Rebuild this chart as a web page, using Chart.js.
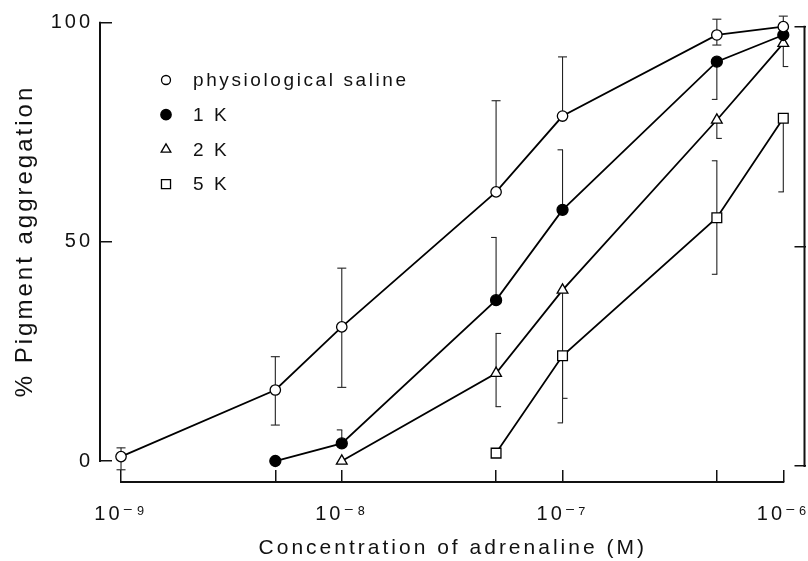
<!DOCTYPE html>
<html>
<head>
<meta charset="utf-8">
<script src="https://cdn.jsdelivr.net/npm/chart.js@4.4.1/dist/chart.umd.min.js"></script>
<style>
html,body{margin:0;padding:0;background:#fff;}
#wrap{width:808px;height:561px;position:relative;}
</style>
</head>
<body>
<div id="wrap"><canvas id="c"></canvas></div>
<script>
// ---- data ----
const seriesLabels = ['physiological saline', '1 K', '2 K', '5 K'];

const salineX = [1e-9, 5e-9, 1e-8, 5e-8, 1e-7, 5e-7, 1e-6];
const salineY = [1.0, 16.2, 30.6, 61.4, 78.7, 97.2, 99.1];
const salineErrUp = [2.0, 7.6, 13.4, 20.8, 13.5, 3.6, 2.4];
const salineErrDown = [3.0, 8.0, 13.8, null, null, 2.3, null];

const k1X = [5e-9, 1e-8, 5e-8, 1e-7, 5e-7, 1e-6];
const k1Y = [0, 4.0, 36.7, 57.3, 91.1, 97.2];
const k1ErrUp = [null, 3.1, 14.3, 13.7, null, null];
const k1ErrDown = [null, null, null, null, 8.6, null];

const k2X = [1e-8, 5e-8, 1e-7, 5e-7, 1e-6];
const k2Y = [0, 20.0, 39.0, 77.8, 95.3];
const k2ErrUp = [null, 9.1, null, null, null];
const k2ErrDown = [null, 7.6, 24.7, 4.2, 5.3];

const k5X = [5e-8, 1e-7, 5e-7, 1e-6];
const k5Y = [1.8, 24.0, 55.5, 78.2];
const k5ErrUp = [null, null, 13.0, null];
const k5ErrDown = [null, 15.3, 12.9, 16.8];

const xTickVals = [1e-9, 5e-9, 1e-8, 5e-8, 1e-7, 5e-7, 1e-6];
const xTickLabels = ['10\u207B\u2079', '', '10\u207B\u2078', '', '10\u207B\u2077', '', '10\u207B\u2076'];
const yTickVals = [0, 50, 100];
const yTickLabels = ['0', '50', '100'];

const xTitle = 'Concentration of adrenaline (M)';
const yTitle = '% Pigment aggregation';

// ---- build ----
function pts(xs, ys) { return xs.map((x, i) => ({x: x, y: ys[i]})); }

const FONT = "'Liberation Sans', 'DejaVu Sans', Arial, sans-serif";

function mkDs(label, xs, ys, up, dn, style, radius, fill, capSide) {
  return {
    label: label,
    data: pts(xs, ys),
    errUp: up, errDown: dn, capSide: capSide,
    borderColor: '#000',
    borderWidth: 1.8,
    pointStyle: style,
    pointRadius: radius,
    pointHoverRadius: radius,
    pointBorderColor: '#000',
    pointBorderWidth: 1.3,
    pointBackgroundColor: fill,
    tension: 0,
    fill: false,
    clip: false
  };
}

const datasets = [
  mkDs(seriesLabels[0], salineX, salineY, salineErrUp, salineErrDown, 'circle', 5.2, '#fff', 'center'),
  mkDs(seriesLabels[1], k1X, k1Y, k1ErrUp, k1ErrDown, 'circle', 5.5, '#000', 'left'),
  mkDs(seriesLabels[2], k2X, k2Y, k2ErrUp, k2ErrDown, 'triangle', 6.2, '#fff', 'right'),
  mkDs(seriesLabels[3], k5X, k5Y, k5ErrUp, k5ErrDown, 'rect', 6.9, '#fff', 'left')
];

const spacingPlugin = {
  id: 'spacing',
  beforeDraw(chart) { chart.ctx.letterSpacing = '3px'; }
};

const errPlugin = {
  id: 'errbars',
  beforeDatasetsDraw(chart) {
    const ctx = chart.ctx, xs = chart.scales.x, ys = chart.scales.y;
    ctx.save();
    ctx.strokeStyle = '#222';
    ctx.lineWidth = 1.1;
    const seg = (x1, y1, x2, y2) => { ctx.beginPath(); ctx.moveTo(x1, y1); ctx.lineTo(x2, y2); ctx.stroke(); };
    const cap = (px, py, side) => {
      if (side === 'left') seg(px - 5, py, px + 0.5, py);
      else if (side === 'right') seg(px - 0.5, py, px + 5, py);
      else seg(px - 4.5, py, px + 4.5, py);
    };
    chart.data.datasets.forEach(ds => {
      ds.data.forEach((p, j) => {
        const px = xs.getPixelForValue(p.x), py = ys.getPixelForValue(p.y);
        const up = ds.errUp[j], dn = ds.errDown[j];
        if (up != null) { const t = ys.getPixelForValue(p.y + up); seg(px, py, px, t); cap(px, t, ds.capSide); }
        if (dn != null) { const b = ys.getPixelForValue(p.y - dn); seg(px, py, px, b); cap(px, b, ds.capSide); }
      });
    });
    ctx.restore();
  }
};

const axisPlugin = {
  id: 'axisLines',
  beforeDatasetsDraw(chart) {
    const ctx = chart.ctx, a = chart.chartArea, xs = chart.scales.x, ys = chart.scales.y, y2 = chart.scales.y2;
    ctx.save();
    ctx.strokeStyle = '#111';
    ctx.lineWidth = 2;
    ctx.lineCap = 'square';
    const yLo = yTickVals[0], yHi = yTickVals[yTickVals.length - 1];
    const xLo = xTickVals[0], xHi = xTickVals[xTickVals.length - 1];
    ctx.beginPath();
    ctx.moveTo(a.left, ys.getPixelForValue(yHi)); ctx.lineTo(a.left, ys.getPixelForValue(yLo));
    ctx.moveTo(xs.getPixelForValue(xLo), a.bottom); ctx.lineTo(xs.getPixelForValue(xHi), a.bottom);
    ctx.moveTo(a.right - 1, y2.getPixelForValue(yHi)); ctx.lineTo(a.right - 1, y2.getPixelForValue(yLo));
    ctx.stroke();
    ctx.restore();
  }
};

function drawMarker(ctx, style, x, y, r, fill) {
  ctx.beginPath();
  if (style === 'circle') {
    ctx.arc(x, y, r, 0, Math.PI * 2);
  } else if (style === 'triangle') {
    for (let k = 0; k < 3; k++) {
      const ang = k * 2 * Math.PI / 3;
      const px = x + Math.sin(ang) * r, py = y - Math.cos(ang) * r;
      if (k === 0) ctx.moveTo(px, py); else ctx.lineTo(px, py);
    }
    ctx.closePath();
  } else {
    const s = r * Math.SQRT1_2;
    ctx.rect(x - s, y - s, 2 * s, 2 * s);
  }
  ctx.fillStyle = fill;
  ctx.fill();
  ctx.stroke();
}

const legendPlugin = {
  id: 'insideLegend',
  afterDraw(chart) {
    const ctx = chart.ctx, a = chart.chartArea;
    const radii = [4.5, 5.2, 5.6, 6.4];
    ctx.save();
    ctx.letterSpacing = '2.6px';
    ctx.font = '19px ' + FONT;
    ctx.textBaseline = 'middle';
    ctx.textAlign = 'left';
    ctx.strokeStyle = '#000';
    ctx.lineWidth = 1.3;
    chart.data.datasets.forEach((ds, i) => {
      const cy = a.top + 80 + i * 34.7;
      drawMarker(ctx, ds.pointStyle, a.left + 66, cy, radii[i], ds.pointBackgroundColor);
      ctx.fillStyle = '#111';
      ctx.fillText(ds.label, a.left + 93, cy + 1);
    });
    ctx.restore();
  }
};

function noPad(s) { s.paddingTop = 0; s.paddingBottom = 0; s.paddingLeft = 0; s.paddingRight = 0; }

const tickGrid = {display: true, drawOnChartArea: false, drawTicks: true, tickLength: -12, color: '#111', lineWidth: 1.5};

new Chart(document.getElementById('c'), {
  type: 'line',
  data: {datasets: datasets},
  options: {
    responsive: true,
    maintainAspectRatio: false,
    animation: false,
    events: [],
    layout: {padding: 0, autoPadding: false},
    plugins: {legend: {display: false}, tooltip: {enabled: false}, title: {display: false}},
    scales: {
      x: {
        type: 'logarithmic',
        position: 'bottom',
        min: 8.031e-10,
        max: 1.2606e-6,
        afterBuildTicks: s => { s.ticks = xTickVals.map(v => ({value: v})); },
        afterFit: s => { s.height = 79; noPad(s); },
        border: {display: false},
        grid: tickGrid,
        ticks: {
          autoSkip: false, maxRotation: 0, minRotation: 0, padding: 32,
          color: '#111', font: {family: FONT, size: 20},
          callback: (v, i) => xTickLabels[i]
        },
        title: {display: true, text: xTitle, color: '#111', font: {family: FONT, size: 21}, padding: {top: 0, bottom: 0}}
      },
      y: {
        type: 'linear',
        position: 'left',
        min: -4.79,
        max: 105.18,
        afterBuildTicks: s => { s.ticks = yTickVals.map(v => ({value: v})); },
        afterFit: s => { s.width = 100; noPad(s); },
        border: {display: false},
        grid: tickGrid,
        ticks: {
          autoSkip: false, padding: 19,
          color: '#111', font: {family: FONT, size: 20},
          callback: (v, i) => yTickLabels[i]
        },
        title: {display: true, text: yTitle, color: '#111', font: {family: FONT, size: 24}, padding: {top: 11, bottom: 0}}
      },
      y2: {
        type: 'linear',
        position: 'right',
        min: -3.64,
        max: 106.08,
        afterBuildTicks: s => { s.ticks = yTickVals.map(v => ({value: v})); },
        afterFit: s => { s.width = 2.5; noPad(s); },
        border: {display: false},
        grid: {display: true, drawOnChartArea: false, drawTicks: true, tickLength: -11, color: '#111', lineWidth: 1.5},
        ticks: {display: false}
      }
    }
  },
  plugins: [spacingPlugin, axisPlugin, errPlugin, legendPlugin]
});
</script>
</body>
</html>
